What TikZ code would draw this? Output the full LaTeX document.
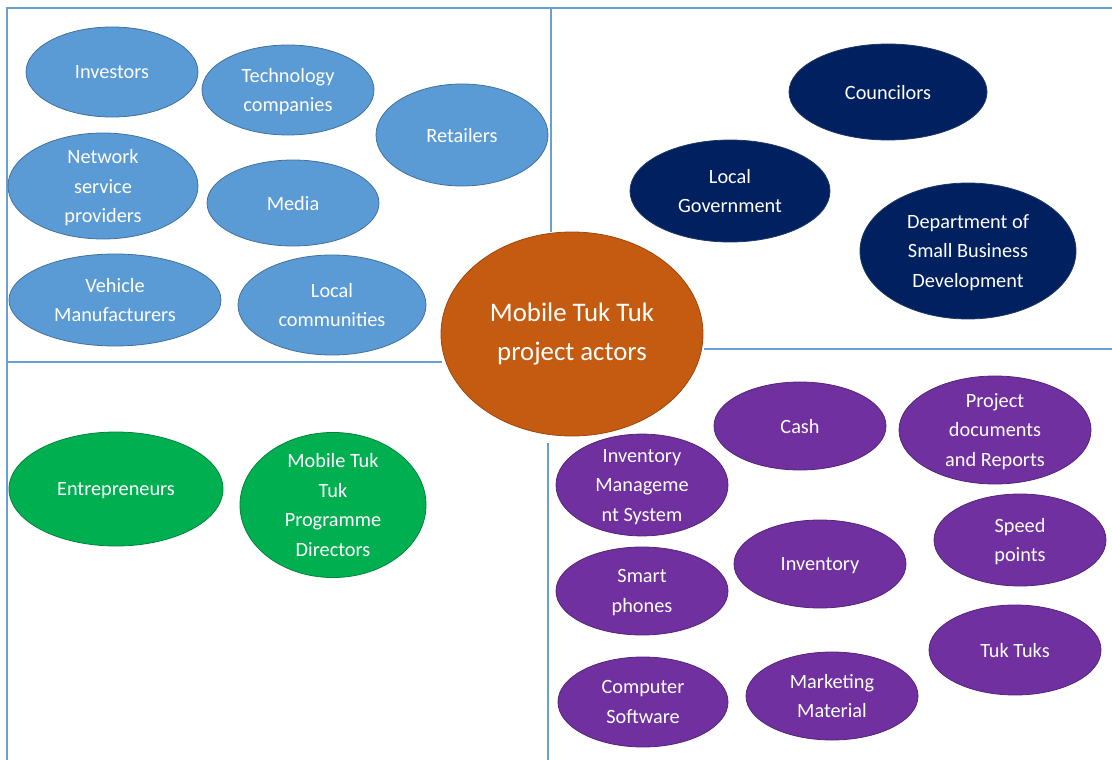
\documentclass[tikz,border=0pt]{standalone}
\usepackage{fontspec}
\setmainfont{Carlito}
\usetikzlibrary{shapes.geometric}
\definecolor{cblue}{HTML}{5B9BD5}
\definecolor{cblueb}{HTML}{41719C}
\definecolor{cnavy}{HTML}{002060}
\definecolor{cnavyb}{HTML}{1F3864}
\definecolor{cgreen}{HTML}{00B050}
\definecolor{cgreenb}{HTML}{00843C}
\definecolor{cpurp}{HTML}{7030A0}
\definecolor{cpurpb}{HTML}{55247A}
\definecolor{corange}{HTML}{C55A11}
\definecolor{corangeb}{HTML}{9E480E}
\definecolor{cline}{HTML}{6A9FD3}
\tikzset{
  ov/.style={ellipse, inner sep=0pt, align=center, text=white, line width=0.8pt,
    font=\fontsize{20.3}{29.5}\selectfont, text depth=0pt},
  blueov/.style={ov, fill=cblue, draw=cblueb},
  navyov/.style={ov, fill=cnavy, draw=cnavyb},
  greenov/.style={ov, fill=cgreen, draw=cgreenb},
  purpov/.style={ov, fill=cpurp, draw=cpurpb},
  hub/.style={ellipse, inner sep=0pt, align=center, fill=corange, draw=corangeb, line width=0.8pt,
    text=white, font=\fontsize{26.8}{38.5}\selectfont},
  divider/.style={draw=cline, line width=1.4pt},
  sz/.style 2 args={minimum width=#1pt, minimum height=#2pt}
}
\begin{document}
\begin{tikzpicture}[x=1pt,y=-1pt]
\useasboundingbox (0,0) rectangle (1112,760);
% dividers
\coordinate (tl) at (7,8);
\coordinate (tr) at (1112,8);
\coordinate (bl) at (7,760);
\coordinate (vt) at (551,8);
\coordinate (vm) at (551,232);
\coordinate (vb1) at (548,443);
\coordinate (vb2) at (548,760);
\coordinate (hl1) at (7,362);
\coordinate (hl2) at (442,362);
\coordinate (hr1) at (704,349);
\coordinate (hr2) at (1112,349);
\draw[divider] (bl) -- (tl) -- (tr);
\draw[divider] (vt) -- (vm);
\draw[divider] (vb1) -- (vb2);
\draw[divider] (hl1) -- (hl2);
\draw[divider] (hr1) -- (hr2);

% blue
\node[blueov, sz={172}{90}] (inv) at (112,72) {Investors};
\node[blueov, sz={172}{90}] (tech) at (288,90) {Technology\\companies};
\node[blueov, sz={172}{102}] (ret) at (462,135) {Retailers};
\node[blueov, sz={190}{106}] (net) at (103,186) {Network\\service\\providers};
\node[blueov, sz={172}{86}] (med) at (293,203) {Media};
\node[blueov, sz={212}{92}] (veh) at (115,300) {Vehicle\\Manufacturers};
\node[blueov, sz={188}{100}] (loc) at (332,305) {Local\\communities};

% navy
\node[navyov, sz={198}{96}] (cou) at (888,92) {Councilors};
\node[navyov, sz={200}{102}] (lgov) at (730,191) {Local\\Government};
\node[navyov, sz={216}{136}] (dsbd) at (968,251) {Department of\\Small Business\\Development};

% hub
\node[hub, sz={262}{204}] (hubn) at (572,334) {Mobile Tuk Tuk\\project actors};

% green
\node[greenov, sz={214}{114}] (ent) at (116,489) {Entrepreneurs};
\node[greenov, sz={186}{134}] (dir) at (333,505) {Mobile Tuk\\Tuk\\Programme\\Directors};

% purple
\node[purpov, sz={172}{88}] (cash) at (800,426) {Cash};
\node[purpov, sz={192}{108}] (docs) at (995,430) {Project\\documents\\and Reports};
\node[purpov, sz={172}{90}] (ims) at (642,485) {Inventory\\Manageme\\nt System};
\node[purpov, sz={172}{92}] (spd) at (1020,540) {Speed\\points};
\node[purpov, sz={172}{88}] (invy) at (820,564) {Inventory};
\node[purpov, sz={172}{88}] (sph) at (642,591) {Smart\\phones};
\node[purpov, sz={172}{90}] (tuk) at (1015,650) {Tuk Tuks};
\node[purpov, sz={170}{90}] (soft) at (643,702) {Computer\\Software};
\node[purpov, sz={172}{88}] (mkt) at (832,696) {Marketing\\Material};
\end{tikzpicture}
\end{document}
